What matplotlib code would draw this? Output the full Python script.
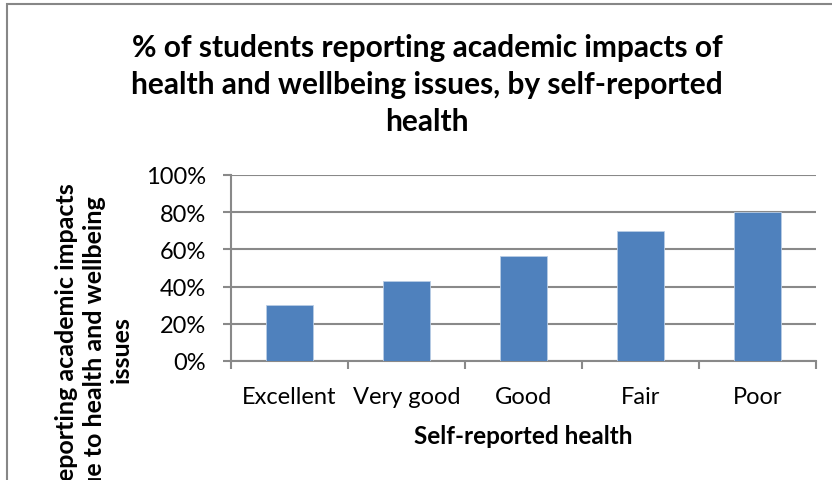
import matplotlib
matplotlib.use("Agg")
import numpy as np
from matplotlib import pyplot as plt
from matplotlib.patches import Rectangle
from matplotlib.ticker import FuncFormatter, MultipleLocator

# Data
categories = ["Excellent", "Very good", "Good", "Fair", "Poor"]
pct_impacted = [0.30, 0.43, 0.565, 0.70, 0.80]

TITLE = ("% of students reporting academic impacts of\n"
         "health and wellbeing issues, by self-reported\n"
         "health")
YLABEL = "% reporting academic impacts\ndue to health and wellbeing\nissues"
XLABEL = "Self-reported health"

BAR_COLOR = "#4F81BD"
GRID_COLOR = "#898989"
W, H = 832, 481

plt.rcParams["font.family"] = ["Lato", "DejaVu Sans"]

fig = plt.figure(figsize=(W / 100, H / 100), dpi=100)

# chart border (only top and left visible in the crop)
fig.add_artist(Rectangle((7.5 / W, -0.1), 2, 1.1 - 4.5 / H, transform=fig.transFigure,
                         fill=False, edgecolor="#878787", lw=1.5))

ax = fig.add_axes([231 / W, (H - 362) / H, 585 / W, 186 / H])
x = np.arange(len(categories))
ax.bar(x, pct_impacted, width=0.4, color=BAR_COLOR, edgecolor="#B9CDE5",
       linewidth=0.6, zorder=3)

ax.set_xlim(-0.5, len(categories) - 0.5)
ax.set_ylim(0, 1.0)
ax.yaxis.set_major_locator(MultipleLocator(0.2))
ax.yaxis.set_major_formatter(FuncFormatter(lambda v, p: f"{v * 100:.0f}%"))
ax.grid(axis="y", color=GRID_COLOR, lw=1.5, zorder=0)
ax.set_axisbelow(True)

ax.set_xticks(x)
ax.set_xticklabels(categories)
ax.set_xticks(np.arange(len(categories) + 1) - 0.5, minor=True)
ax.tick_params(axis="x", which="major", length=0, pad=18, labelsize=17)
ax.tick_params(axis="x", which="minor", length=6, width=1.5, color=GRID_COLOR)
ax.tick_params(axis="y", length=6, width=1.5, color=GRID_COLOR, pad=12, labelsize=17)

for side in ("top", "right"):
    ax.spines[side].set_visible(False)
for side in ("left", "bottom"):
    ax.spines[side].set_color(GRID_COLOR)
    ax.spines[side].set_linewidth(1.5)

ax.set_xlabel(XLABEL, fontsize=17.5, fontweight="bold", labelpad=12)

fig.text(427 / W, 1 - 34 / H, TITLE, ha="center", va="top", fontsize=21.5,
         fontweight="bold", linespacing=1.4)
fig.text(94 / W, 1 - 350 / H, YLABEL, ha="center", va="center", rotation=90,
         multialignment="center", fontsize=18, fontweight="bold", linespacing=1.25)

fig.savefig("out.png", dpi=100)
